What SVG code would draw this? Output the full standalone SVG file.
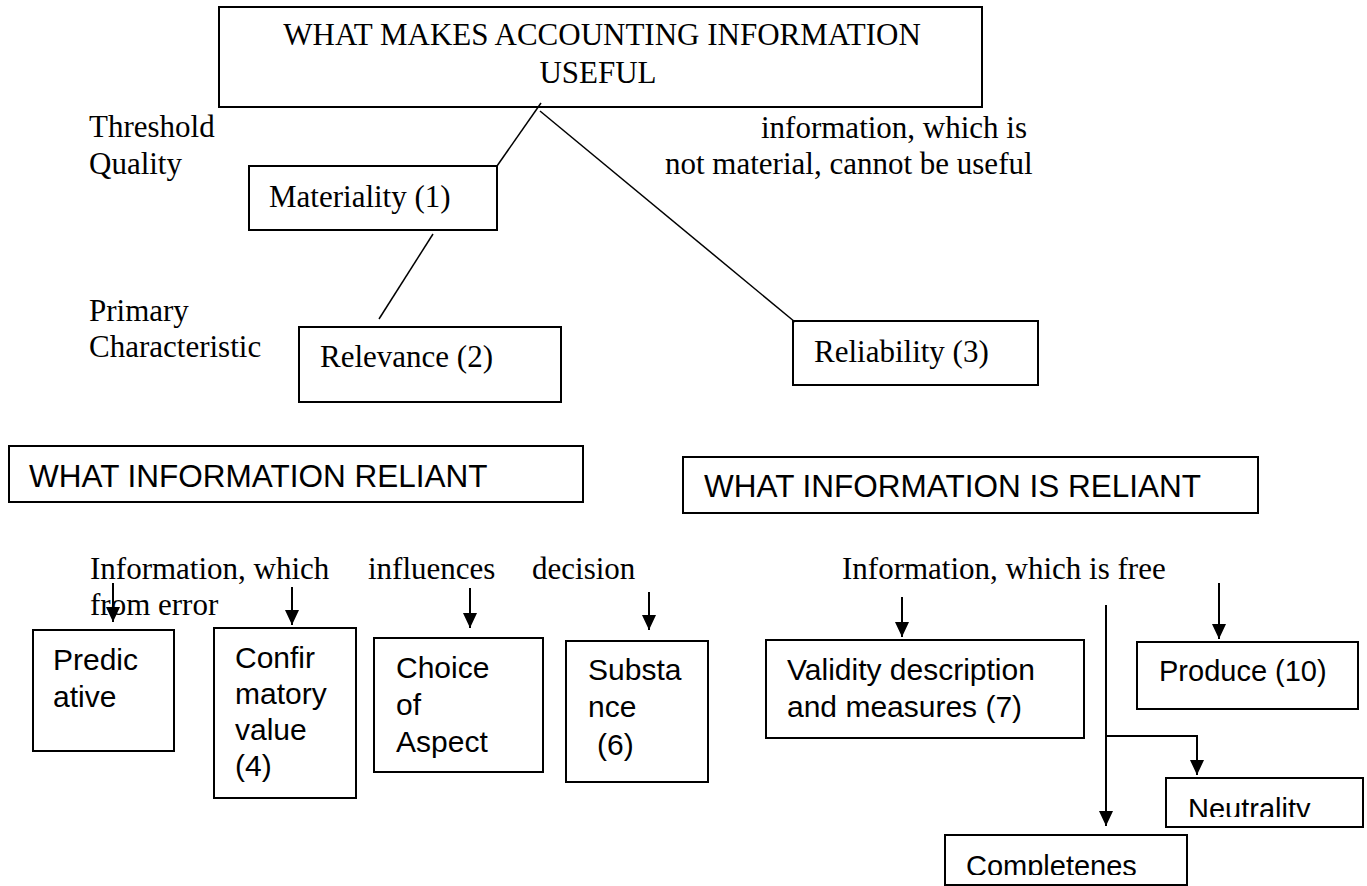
<svg xmlns="http://www.w3.org/2000/svg" width="1367" height="886" viewBox="0 0 1367 886">
<style>
.box{fill:#fff;stroke:#000;stroke-width:2}
.tr{font-family:"Liberation Serif","Times New Roman",serif;font-size:31px;fill:#000}
.ar{font-family:"Liberation Sans",Arial,sans-serif;font-size:30px;fill:#000}
.hd{font-family:"Liberation Sans",Arial,sans-serif;font-size:31.5px;fill:#000}
.ln{stroke:#000;stroke-width:1.5;fill:none}
.arw{stroke:#000;stroke-width:2;fill:none;marker-end:url(#ah)}
</style>
<defs>
<marker id="ah" markerUnits="userSpaceOnUse" markerWidth="16" markerHeight="14" refX="15" refY="7" orient="auto">
<path d="M0,0 L15,7 L0,14 z" fill="#000"/>
</marker>
<clipPath id="clipNeu"><rect x="1167" y="779" width="196" height="38"/></clipPath>
<clipPath id="clipCom"><rect x="946" y="836" width="241" height="39"/></clipPath>
</defs>
<rect width="1367" height="886" fill="#fff"/>

<g id="labels">
<text class="tr" x="89" y="137">Threshold</text>
<text class="tr" x="89" y="174">Quality</text>
<text class="tr" x="761" y="138">information, which is</text>
<text class="tr" x="665" y="174">not material, cannot be useful</text>
<text class="tr" x="89" y="321">Primary</text>
<text class="tr" x="89" y="357">Characteristic</text>
<text class="tr" x="90" y="579">Information, which</text>
<text class="tr" x="368" y="579">influences</text>
<text class="tr" x="532" y="579">decision</text>
<text class="tr" x="90" y="615">from error</text>
<text class="tr" x="842" y="579">Information, which is free</text>
</g>

<g id="node-top">
<rect class="box" x="219" y="7" width="763" height="100"/>
<text class="tr" x="602" y="45" text-anchor="middle">WHAT MAKES ACCOUNTING INFORMATION</text>
<text class="tr" x="598" y="83" text-anchor="middle">USEFUL</text>
</g>
<g id="node-materiality">
<rect class="box" x="249" y="166" width="248" height="64"/>
<text class="tr" x="269" y="207">Materiality (1)</text>
</g>
<g id="node-relevance">
<rect class="box" x="299" y="327" width="262" height="75"/>
<text class="tr" x="320" y="367">Relevance (2)</text>
</g>
<g id="node-reliability">
<rect class="box" x="793" y="321" width="245" height="64"/>
<text class="tr" x="814" y="362">Reliability (3)</text>
</g>
<g id="node-header-left">
<rect class="box" x="9" y="446" width="574" height="56"/>
<text class="hd" x="29" y="487">WHAT INFORMATION RELIANT</text>
</g>
<g id="node-header-right">
<rect class="box" x="683" y="457" width="575" height="56"/>
<text class="hd" x="704" y="497">WHAT INFORMATION IS RELIANT</text>
</g>
<g id="node-predicative">
<rect class="box" x="33" y="630" width="141" height="121"/>
<text class="ar" x="53" y="670">Predic</text>
<text class="ar" x="53" y="707">ative</text>
</g>
<g id="node-confirmatory">
<rect class="box" x="214" y="628" width="142" height="170"/>
<text class="ar" x="235" y="668">Confir</text>
<text class="ar" x="235" y="704">matory</text>
<text class="ar" x="235" y="740">value</text>
<text class="ar" x="235" y="776">(4)</text>
</g>
<g id="node-choice">
<rect class="box" x="374" y="638" width="169" height="134"/>
<text class="ar" x="396" y="678">Choice</text>
<text class="ar" x="396" y="715">of</text>
<text class="ar" x="396" y="752">Aspect</text>
</g>
<g id="node-substance">
<rect class="box" x="566" y="641" width="142" height="141"/>
<text class="ar" x="588" y="680">Substa</text>
<text class="ar" x="588" y="717">nce</text>
<text class="ar" x="597" y="755">(6)</text>
</g>
<g id="node-validity">
<rect class="box" x="766" y="640" width="318" height="98"/>
<text class="ar" x="787" y="680">Validity description</text>
<text class="ar" x="787" y="717">and measures (7)</text>
</g>
<g id="node-produce">
<rect class="box" x="1137" y="642" width="221" height="67"/>
<text class="ar" x="1159" y="681" style="font-size:29px">Produce (10)</text>
</g>
<g id="node-neutrality">
<rect class="box" x="1166" y="778" width="197" height="49"/>
<text class="ar" x="1188" y="819" clip-path="url(#clipNeu)" style="font-size:29px">Neutrality</text>
</g>
<g id="node-completeness">
<rect class="box" x="945" y="835" width="242" height="50"/>
<text class="ar" x="966" y="876" clip-path="url(#clipCom)" style="font-size:29px">Completenes</text>
</g>

<g id="connectors">
<line class="ln" x1="541" y1="103" x2="497" y2="166"/>
<line class="ln" x1="540" y1="111" x2="795" y2="322"/>
<line class="ln" x1="433" y1="234" x2="379" y2="319"/>
<line class="arw" x1="113" y1="583" x2="113" y2="622"/>
<line class="arw" x1="292" y1="587" x2="292" y2="625"/>
<line class="arw" x1="470" y1="588" x2="470" y2="628"/>
<line class="arw" x1="649" y1="592" x2="649" y2="630"/>
<line class="arw" x1="902" y1="597" x2="902" y2="637"/>
<line class="arw" x1="1219" y1="583" x2="1219" y2="639"/>
<line class="arw" x1="1106" y1="605" x2="1106" y2="826"/>
<polyline class="arw" points="1106,736 1197,736 1197,775"/>
</g>
</svg>
